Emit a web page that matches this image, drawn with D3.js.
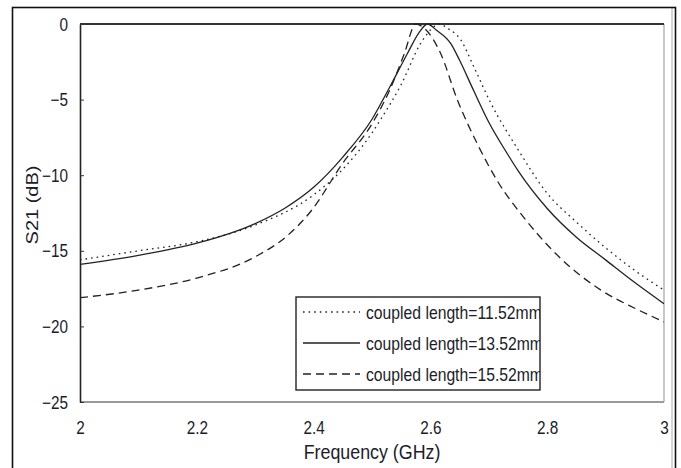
<!DOCTYPE html>
<html><head><meta charset="utf-8">
<script src="https://cdn.jsdelivr.net/npm/d3@7"></script>
<style>
body{margin:0;background:#fff}
text{font-family:"Liberation Sans",Arial,Helvetica,sans-serif;fill:#1c1c2a}
</style>
</head><body>
<svg id="chart" width="681" height="468"></svg>
<script>
// ---- data ----
const xTicks = [2, 2.2, 2.4, 2.6, 2.8, 3];
const yTicks = [0, -5, -10, -15, -20, -25];
const seriesNames = ["coupled length=11.52mm", "coupled length=13.52mm", "coupled length=15.52mm"];

const freqA = [2.00, 2.10, 2.20, 2.30, 2.40, 2.45, 2.50, 2.515, 2.55, 2.583, 2.60, 2.615, 2.63, 2.652, 2.674, 2.703, 2.75, 2.80, 2.85, 2.90, 2.95, 3.00];
const s21A  = [-15.6, -15.0, -14.4, -13.3, -11.3, -9.6, -7.2, -6.3, -4.0, -1.3, -0.4, 0, -0.3, -1.05, -2.8, -5.2, -8.3, -11.2, -13.1, -14.8, -16.3, -17.6];

const freqB = [2.00, 2.10, 2.20, 2.30, 2.35, 2.40, 2.45, 2.50, 2.53, 2.56, 2.58, 2.595, 2.61, 2.635, 2.65, 2.674, 2.70, 2.732, 2.75, 2.80, 2.85, 2.90, 2.95, 3.00];
const s21B  = [-15.9, -15.3, -14.5, -13.2, -12.2, -10.8, -8.8, -6.3, -4.2, -2.0, -0.6, 0, -0.4, -1.3, -2.4, -4.4, -6.5, -8.6, -9.7, -12.2, -14.1, -15.6, -17.1, -18.5];

const freqC = [2.00, 2.10, 2.20, 2.30, 2.355, 2.395, 2.45, 2.50, 2.53, 2.555, 2.575, 2.59, 2.617, 2.646, 2.68, 2.715, 2.76, 2.80, 2.823, 2.892, 2.95, 3.00];
const s21C  = [-18.1, -17.6, -16.8, -15.4, -14.0, -12.4, -9.2, -6.6, -4.4, -2.0, 0, -0.3, -1.9, -5.0, -7.9, -10.4, -12.8, -14.6, -15.5, -17.6, -18.8, -19.7];

// ---- layout ----
const svg = d3.select("#chart");
const L = 80, R = 664, T = 24, B = 402;
const SQ = 0.85; // horizontal squeeze of the text

const x = d3.scaleLinear().domain([2, 3]).range([L, R]);
const y = d3.scaleLinear().domain([-25, 0]).range([B, T]);

// outer frame
svg.append("line").attr("x1", 672).attr("x2", 672).attr("y1", 8).attr("y2", 468).attr("stroke", "#aaa").attr("stroke-width", 1);
svg.append("rect").attr("x", 12.5).attr("y", 7.5).attr("width", 663).attr("height", 470)
  .attr("fill", "none").attr("stroke", "#111").attr("stroke-width", 1.6);

// plot frame
svg.append("line").attr("x1", L).attr("x2", R).attr("y1", B).attr("y2", B).attr("stroke", "#777").attr("stroke-width", 1.3);
svg.append("line").attr("x1", R).attr("x2", R).attr("y1", T).attr("y2", B).attr("stroke", "#aaa").attr("stroke-width", 1.3);

// y axis
const yAxis = d3.axisLeft(y).tickValues(yTicks).tickSize(-4).tickPadding(0).tickSizeOuter(0).tickFormat(d3.format("d"));
const gy = svg.append("g").attr("transform", `translate(${L},0)`).call(yAxis);
gy.select(".domain").attr("stroke", "#222").attr("stroke-width", 1.6);
gy.selectAll(".tick line").attr("stroke", "#333");
gy.selectAll(".tick text")
  .attr("x", -12 / SQ).attr("dy", "0.34em")
  .attr("transform", `scale(${SQ},1)`)
  .style("font-size", "18px").attr("fill", "#1c1c2a");

// x axis
const xAxis = d3.axisBottom(x).tickValues(xTicks).tickSize(0).tickPadding(0).tickSizeOuter(0).tickFormat(d3.format("~g"));
const gx = svg.append("g").attr("transform", `translate(0,${B})`).call(xAxis);
gx.select(".domain").attr("stroke", "none");
gx.selectAll(".tick text")
  .attr("y", 0).attr("dy", "32")
  .attr("transform", `scale(${SQ},1)`)
  .style("font-size", "18px").attr("fill", "#1c1c2a");

// top frame line (drawn dark)
svg.append("line").attr("x1", L).attr("x2", R).attr("y1", T).attr("y2", T).attr("stroke", "#333").attr("stroke-width", 1.8);

// axis titles
svg.append("text").attr("transform", `translate(${(L + R) / 2},459) scale(${SQ},1)`)
  .attr("text-anchor", "middle").style("font-size", "21px").text("Frequency (GHz)");
svg.append("text").attr("transform", `translate(38,205) rotate(-90) scale(1,${SQ})`)
  .attr("text-anchor", "middle").style("font-size", "20px").text("S21 (dB)");

// lines
svg.append("clipPath").attr("id", "plotclip").append("rect")
  .attr("x", L).attr("y", T - 1).attr("width", R - L).attr("height", B - T + 1);

const line = d3.line().x(d => x(d[0])).y(d => y(d[1])).curve(d3.curveMonotoneX);
const series = [
  { f: freqA, v: s21A, dash: "1.6,4" },
  { f: freqB, v: s21B, dash: null },
  { f: freqC, v: s21C, dash: "8,5" }
];
const gl = svg.append("g").attr("clip-path", "url(#plotclip)");
series.forEach(s => {
  gl.append("path").datum(d3.zip(s.f, s.v))
    .attr("d", line).attr("fill", "none").attr("stroke", "#222")
    .attr("stroke-width", 1.3).attr("stroke-dasharray", s.dash);
});

// legend
const lx = 296, ly = 297, lw = 244, lh = 93;
svg.append("clipPath").attr("id", "legclip").append("rect").attr("x", lx).attr("y", ly).attr("width", lw).attr("height", lh);
svg.append("rect").attr("x", lx).attr("y", ly).attr("width", lw).attr("height", lh)
  .attr("fill", "#fff").attr("stroke", "#222").attr("stroke-width", 1.4);
const lg = svg.append("g").attr("clip-path", "url(#legclip)");
const rowY = [312, 343, 374];
series.forEach((s, i) => {
  lg.append("line").attr("x1", 303).attr("x2", 360).attr("y1", rowY[i]).attr("y2", rowY[i])
    .attr("stroke", "#222").attr("stroke-width", 1.3).attr("stroke-dasharray", s.dash);
  lg.append("text").attr("transform", `translate(366,${rowY[i] + 7}) scale(${SQ},1)`)
    .style("font-size", "18.5px").text(seriesNames[i]);
});
</script>
</body></html>
